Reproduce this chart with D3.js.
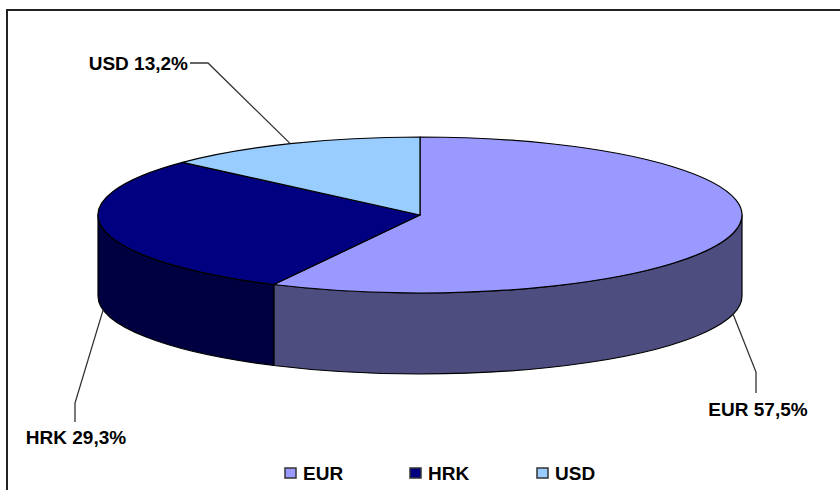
<!DOCTYPE html>
<html>
<head>
<meta charset="utf-8">
<script src="https://cdn.jsdelivr.net/npm/d3@7"></script>
<style>
  html, body { margin: 0; padding: 0; background: #fff; }
  svg { display: block; }
  text { font-family: "Liberation Sans", Arial, sans-serif; font-weight: bold; fill: #000; }
</style>
</head>
<body>
<svg id="chart" width="840" height="490"></svg>
<script>
// ---- data ----
const categories = ["EUR", "HRK", "USD"];
const shares = [57.5, 29.3, 13.2];
const labels = ["EUR 57,5%", "HRK 29,3%", "USD 13,2%"];
const topColors = ["#9999FF", "#000080", "#99CCFF"];
const sideColors = ["#4D4D80", "#000040", "#4D6680"];

// ---- layout ----
const W = 840, H = 490;
const cx = 420, cy = 215, rx = 322, ry = 78, depth = 81;
const svg = d3.select("#chart");

// frame (right/bottom edges fall outside the picture)
svg.append("rect").attr("x", 7).attr("y", 10).attr("width", 900).attr("height", 600)
  .attr("fill", "none").attr("stroke", "#222").attr("stroke-width", 2);

const pie = d3.pie().sort(null).value(d => d).startAngle(0).endAngle(2 * Math.PI);
const arcs = pie(shares);

const px = a => cx + rx * Math.sin(a);
const py = (a, dy = 0) => cy - ry * Math.cos(a) + dy;

function ellArc(a0, a1, dy, sweep) {
  const large = Math.abs(a1 - a0) > Math.PI ? 1 : 0;
  return `A${rx},${ry} 0 ${large} ${sweep} ${px(a1)},${py(a1, dy)}`;
}

const g = svg.append("g");

// side walls (front half only: angles between PI/2 and 3PI/2)
arcs.forEach((d, i) => {
  const a0 = Math.max(d.startAngle, Math.PI / 2);
  const a1 = Math.min(d.endAngle, 3 * Math.PI / 2);
  if (a1 <= a0) return;
  const p = `M${px(a0)},${py(a0)} ${ellArc(a0, a1, 0, 1)} L${px(a1)},${py(a1, depth)} ` +
            `A${rx},${ry} 0 0 0 ${px(a0)},${py(a0, depth)} Z`;
  g.append("path").attr("d", p).attr("fill", sideColors[i])
    .attr("stroke", "#000").attr("stroke-width", 1.2).attr("stroke-linejoin", "round");
});

// top faces
arcs.forEach((d, i) => {
  const p = `M${cx},${cy} L${px(d.startAngle)},${py(d.startAngle)} ${ellArc(d.startAngle, d.endAngle, 0, 1)} Z`;
  g.append("path").attr("d", p).attr("fill", topColors[i])
    .attr("stroke", "#000").attr("stroke-width", 1.2).attr("stroke-linejoin", "round");
});

// labels with leader lines
const labelLayout = [
  { elbow: [756, 372], end: [756, 393], tx: 758, ty: 409, anchor: "middle", dy: depth },
  { elbow: [75, 403], end: [75, 422], tx: 76, ty: 437, anchor: "middle", dy: depth },
  { elbow: [208, 63], end: [190, 63], tx: 188, ty: 63, anchor: "end", dy: 0 }
];
arcs.forEach((d, i) => {
  const m = (d.startAngle + d.endAngle) / 2;
  const L = labelLayout[i];
  const pts = [[px(m), py(m, L.dy)], L.elbow, L.end];
  svg.append("path").attr("d", d3.line()(pts)).attr("fill", "none")
    .attr("stroke", "#333").attr("stroke-width", 1.3);
  svg.append("text").attr("x", L.tx).attr("y", L.ty).attr("dy", "0.36em")
    .attr("text-anchor", L.anchor).style("font-size", "19px").text(labels[i]);
});

// legend
const legendX = [285, 410, 537];
categories.forEach((c, i) => {
  const lg = svg.append("g").attr("transform", `translate(${legendX[i]},468)`);
  lg.append("rect").attr("x", 0).attr("y", 0).attr("width", 11).attr("height", 10)
    .attr("fill", topColors[i]).attr("stroke", "#333").attr("stroke-width", 1.5);
  lg.append("text").attr("x", 18).attr("y", 5).attr("dy", "0.36em")
    .style("font-size", "19px").text(c);
});
</script>
</body>
</html>
